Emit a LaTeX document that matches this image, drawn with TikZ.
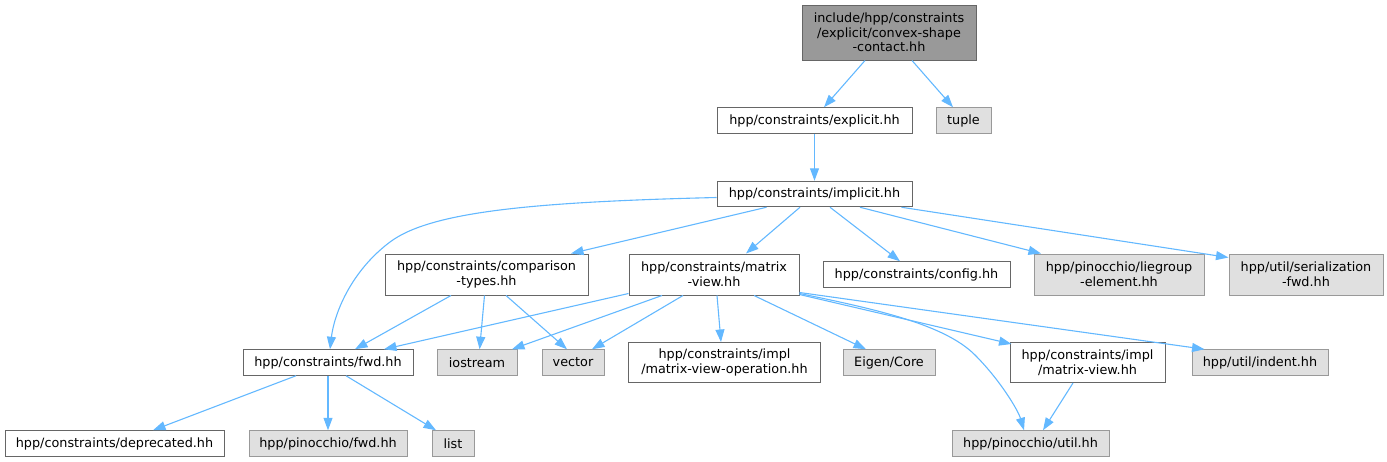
\documentclass[tikz,border=0pt]{standalone}
\usepackage{fontspec}
\setmainfont{DejaVu Sans}
\usetikzlibrary{arrows.meta}
\definecolor{edgec}{HTML}{63B8FF}
\definecolor{darkb}{HTML}{666666}
\definecolor{lightb}{HTML}{999999}
\definecolor{extfill}{HTML}{E0E0E0}
\definecolor{topfill}{HTML}{999999}
\begin{document}
\begin{tikzpicture}[x=1pt,y=-1pt,
  base/.style={line width=1pt, inner sep=0pt, align=center, text=black,
    font=\fontsize{12.8}{14.7}\selectfont},
  intbox/.style={base, draw=darkb, fill=white},
  extbox/.style={base, draw=lightb, fill=extfill},
  topbox/.style={base, draw=darkb, fill=topfill},
  conn/.style={draw=edgec, line width=1.1pt, -{Triangle[length=12.5pt,width=9pt]}}
]
\useasboundingbox (0,0) rectangle (1387,461);

% rank 0
\node[topbox, minimum width=174pt, minimum height=55pt] (top) at (889,32.5) {include/hpp/constraints\\/explicit/convex-shape\\-contact.hh};
% rank 1
\node[intbox, minimum width=195pt, minimum height=25.5pt] (explicit) at (814.5,120.5) {hpp/constraints/explicit.hh};
\node[extbox, minimum width=55pt, minimum height=25.5pt] (tuple) at (963.5,120.5) {tuple};
% rank 2
\node[intbox, minimum width=195pt, minimum height=25.5pt] (implicit) at (814.5,194) {hpp/constraints/implicit.hh};
% rank 3
\node[intbox, minimum width=203pt, minimum height=41pt] (comparison) at (486.5,274.5) {hpp/constraints/comparison\\-types.hh};
\node[intbox, minimum width=170pt, minimum height=41pt] (matrixview) at (714,274.5) {hpp/constraints/matrix\\-view.hh};
\node[intbox, minimum width=187pt, minimum height=25.5pt] (config) at (916.5,274.5) {hpp/constraints/config.hh};
\node[extbox, minimum width=170pt, minimum height=41pt] (liegroup) at (1119,274.5) {hpp/pinocchio/liegroup\\-element.hh};
\node[extbox, minimum width=154pt, minimum height=41pt] (serial) at (1306,274.5) {hpp/util/serialization\\-fwd.hh};
% rank 4
\node[intbox, minimum width=170pt, minimum height=25.5pt] (fwd) at (328,362.5) {hpp/constraints/fwd.hh};
\node[extbox, minimum width=80pt, minimum height=25.5pt] (iostream) at (477,362.5) {iostream};
\node[extbox, minimum width=62pt, minimum height=25.5pt] (vector) at (573,362.5) {vector};
\node[intbox, minimum width=192pt, minimum height=40pt] (mvop) at (724.5,362.5) {hpp/constraints/impl\\/matrix-view-operation.hh};
\node[extbox, minimum width=92pt, minimum height=25.5pt] (eigen) at (889,362.5) {Eigen/Core};
\node[intbox, minimum width=155pt, minimum height=40pt] (implmv) at (1087.5,362.5) {hpp/constraints/impl\\/matrix-view.hh};
\node[extbox, minimum width=136pt, minimum height=25.5pt] (indent) at (1260,362.5) {hpp/util/indent.hh};
% rank 5
\node[intbox, minimum width=219pt, minimum height=25.5pt] (deprecated) at (114.5,443.5) {hpp/constraints/deprecated.hh};
\node[extbox, minimum width=158pt, minimum height=25.5pt] (pfwd) at (328,443.5) {hpp/pinocchio/fwd.hh};
\node[extbox, minimum width=42pt, minimum height=25.5pt] (list) at (453,443.5) {list};
\node[extbox, minimum width=157pt, minimum height=25.5pt] (putil) at (1030.5,443.5) {hpp/pinocchio/util.hh};

% edges
\draw[conn] ([xshift=-24pt]top.south) -- ([xshift=9.5pt]explicit.north);
\draw[conn] ([xshift=23pt]top.south) -- ([xshift=-10.5pt]tuple.north);
\draw[conn] (explicit.south) -- (implicit.north);

\draw[conn] ([yshift=-3.5pt]implicit.west) .. controls (530,202) and (430,212) .. (390,242) .. controls (350,272) and (334,315) .. ([xshift=2pt]fwd.north);
\draw[conn] ([xshift=-48pt]implicit.south) -- ([xshift=84.5pt]comparison.north);
\draw[conn] ([xshift=-14.5pt]implicit.south) -- ([xshift=32pt]matrixview.north);
\draw[conn] ([xshift=15.5pt]implicit.south) -- ([xshift=-16.5pt]config.north);
\draw[conn] ([xshift=45.5pt]implicit.south) -- ([xshift=-78pt]liegroup.north);
\draw[conn] ([xshift=87pt]implicit.south) -- ([yshift=-4pt]serial.north west);

\draw[conn] ([xshift=-35.5pt]comparison.south) -- ([xshift=27pt]fwd.north);
\draw[conn] ([xshift=-2pt]comparison.south) -- ([xshift=2.6pt]iostream.north);
\draw[conn] ([xshift=19.5pt]comparison.south) -- ([xshift=-6pt]vector.north);

\draw[conn] ([yshift=2pt]matrixview.south west) -- ([xshift=56pt]fwd.north);
\draw[conn] ([xshift=-52pt]matrixview.south) -- ([xshift=35pt]iostream.north);
\draw[conn] ([xshift=-31pt]matrixview.south) -- ([xshift=19pt]vector.north);
\draw[conn] ([xshift=3pt]matrixview.south) -- ([xshift=-3.5pt]mvop.north);
\draw[conn] ([xshift=40pt]matrixview.south) -- ([xshift=-23pt]eigen.north);
\draw[conn] ([yshift=2pt]matrixview.south east) .. controls (880,310) and (945,325) .. (975,355) .. controls (1000,380) and (1018,410) .. ([xshift=-6.5pt]putil.north);
\draw[conn] ([yshift=1pt]matrixview.south east) -- ([xshift=2pt,yshift=-2pt]implmv.north west);
\draw[conn] ([yshift=3pt]matrixview.south east) -- ([xshift=13pt]indent.north west);

\draw[conn] ([xshift=-14.5pt]implmv.south) -- ([xshift=12.5pt]putil.north);

\draw[conn] ([xshift=-32pt]fwd.south) -- ([xshift=38.5pt]deprecated.north);
\draw[conn] (fwd.south) -- (pfwd.north);
\draw[conn] ([xshift=18pt]fwd.south) -- ([xshift=-17pt]list.north);
\end{tikzpicture}
\end{document}
